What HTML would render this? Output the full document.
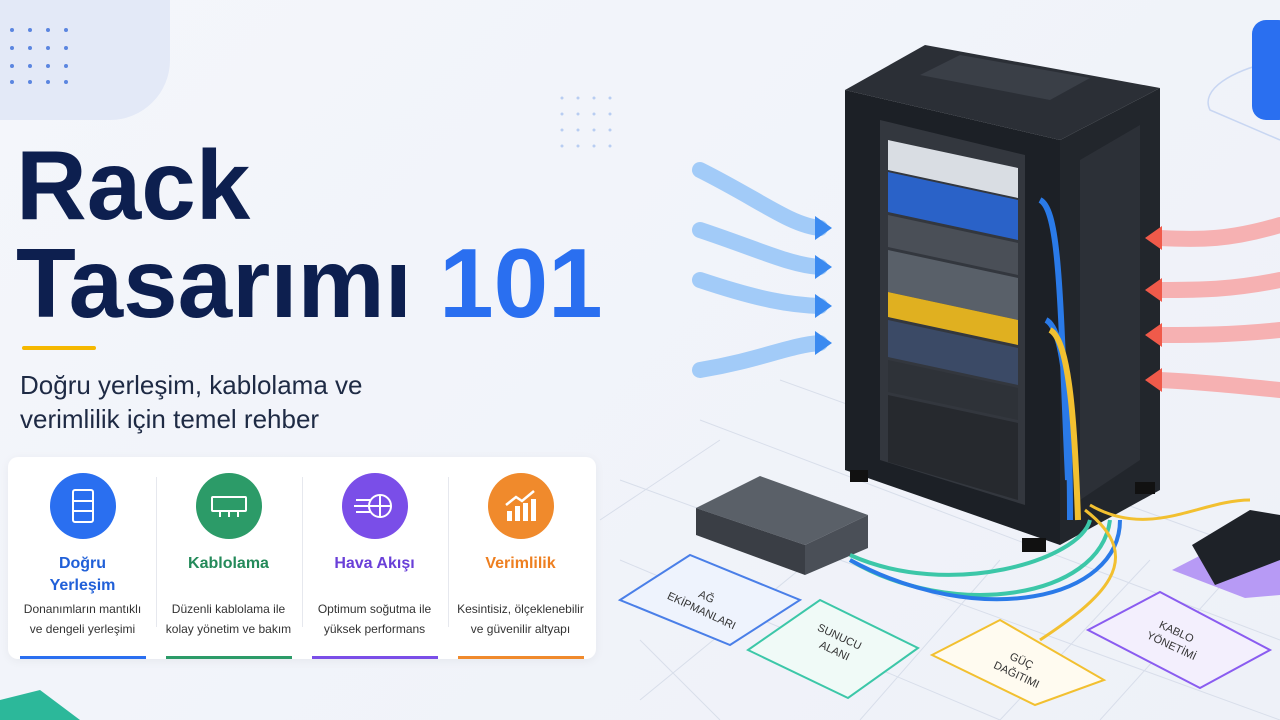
<!DOCTYPE html>
<html><head><meta charset="utf-8"><style>
body{margin:0;width:1280px;height:720px;overflow:hidden;background:linear-gradient(135deg,#f4f6fb,#eef1f8);font-family:"Liberation Sans",sans-serif;position:relative}
.t{position:absolute;left:16px;font-weight:bold;color:#0d1f4f;font-size:98px;line-height:1;letter-spacing:0px}
.card{position:absolute;left:8px;top:457px;width:588px;height:202px;background:#fff;border-radius:10px;box-shadow:0 2px 10px rgba(0,0,0,.05)}
.col{position:absolute;top:0;width:145px;text-align:center}
.ic{width:66px;height:66px;border-radius:50%;margin:16px auto 0;position:relative}
.h{font-weight:bold;font-size:16px;margin-top:14px;line-height:22px}
.d{font-size:12px;color:#333;line-height:20px;margin-top:8px}
.bar{position:absolute;top:199px;height:3px;width:126px;left:10px}
.sep{position:absolute;top:20px;width:1px;height:150px;background:#e6e8ee}
</style></head><body>
<div style="position:absolute;left:-20px;top:-20px;width:190px;height:140px;background:#e3e9f7;border-radius:0 0 60px 0"></div>
<div class="t" style="top:136px">Rack</div>
<div class="t" style="top:234px">Tasarımı <span style="color:#2a6ff0">101</span></div>
<div style="position:absolute;left:22px;top:346px;width:74px;height:4px;background:#f5b800;border-radius:2px"></div>
<div style="position:absolute;left:20px;top:368px;font-size:26px;color:#1e2a44;line-height:34px">Doğru yerleşim, kablolama ve<br>verimlilik için temel rehber</div>
<div class="card">
<div class="sep" style="left:148px"></div><div class="sep" style="left:294px"></div><div class="sep" style="left:440px"></div>
<div class="col" style="left:2px"><div class="ic" style="background:#2a6ff0"><svg width="66" height="66"><g fill="none" stroke="#fff" stroke-width="2"><rect x="23" y="17" width="20" height="32" rx="2"/><path d="M23 28H43M23 38H43"/></g></svg></div><div class="h" style="color:#2160d8">Doğru<br>Yerleşim</div><div class="d" style="margin-top:2px">Donanımların mantıklı<br>ve dengeli yerleşimi</div><div class="bar" style="background:#2a6ff0"></div></div>
<div class="col" style="left:148px"><div class="ic" style="background:#2c9b68"><svg width="66" height="66"><g fill="none" stroke="#fff" stroke-width="2"><rect x="16" y="24" width="34" height="14" rx="1"/><path d="M24 38v6M33 38v6M42 38v6"/></g></svg></div><div class="h" style="color:#248a5a">Kablolama</div><div class="d" style="margin-top:24px">Düzenli kablolama ile<br>kolay yönetim ve bakım</div><div class="bar" style="background:#2c9b68"></div></div>
<div class="col" style="left:294px"><div class="ic" style="background:#7a4ee8"><svg width="66" height="66"><g fill="none" stroke="#fff" stroke-width="2"><circle cx="38" cy="33" r="11"/><path d="M14 27h14M12 33h14M14 39h14M38 22v22M27 33h22"/></g></svg></div><div class="h" style="color:#6a3fd8">Hava Akışı</div><div class="d" style="margin-top:24px">Optimum soğutma ile<br>yüksek performans</div><div class="bar" style="background:#7a4ee8"></div></div>
<div class="col" style="left:440px"><div class="ic" style="background:#f08a2c"><svg width="66" height="66"><g fill="#fff"><rect x="19" y="38" width="5" height="10"/><rect x="27" y="33" width="5" height="15"/><rect x="35" y="30" width="5" height="18"/><rect x="43" y="26" width="5" height="22"/></g><path d="M18 32 L28 24 L34 28 L46 18" stroke="#fff" stroke-width="2.5" fill="none"/></svg></div><div class="h" style="color:#ee7f20">Verimlilik</div><div class="d" style="margin-top:24px">Kesintisiz, ölçeklenebilir<br>ve güvenilir altyapı</div><div class="bar" style="background:#f08a2c"></div></div>
</div>
<svg width="1280" height="720" style="position:absolute;left:0;top:0">
<g fill="#5b86e0"><circle cx="12" cy="30" r="2"/><circle cx="30" cy="30" r="2"/><circle cx="48" cy="30" r="2"/><circle cx="66" cy="30" r="2"/><circle cx="12" cy="48" r="2"/><circle cx="30" cy="48" r="2"/><circle cx="48" cy="48" r="2"/><circle cx="66" cy="48" r="2"/><circle cx="12" cy="66" r="2"/><circle cx="30" cy="66" r="2"/><circle cx="48" cy="66" r="2"/><circle cx="66" cy="66" r="2"/><circle cx="12" cy="82" r="2"/><circle cx="30" cy="82" r="2"/><circle cx="48" cy="82" r="2"/><circle cx="66" cy="82" r="2"/></g>
<g fill="#b8cdf2"><circle cx="562" cy="98" r="1.5"/><circle cx="578" cy="98" r="1.5"/><circle cx="594" cy="98" r="1.5"/><circle cx="610" cy="98" r="1.5"/><circle cx="562" cy="114" r="1.5"/><circle cx="578" cy="114" r="1.5"/><circle cx="594" cy="114" r="1.5"/><circle cx="610" cy="114" r="1.5"/><circle cx="562" cy="130" r="1.5"/><circle cx="578" cy="130" r="1.5"/><circle cx="594" cy="130" r="1.5"/><circle cx="610" cy="130" r="1.5"/><circle cx="562" cy="146" r="1.5"/><circle cx="578" cy="146" r="1.5"/><circle cx="594" cy="146" r="1.5"/><circle cx="610" cy="146" r="1.5"/></g>
<path d="M0 700 L40 690 L80 720 L0 720Z" fill="#2cb89a"/>
<path d="M1280 60 C1230 70 1200 90 1210 110 L1280 140" stroke="#c8d6f2" fill="none" stroke-width="1.5"/>
<rect x="1252" y="20" width="40" height="100" rx="14" fill="#2a6ff0"/>
<g stroke="#d8deea" stroke-width="1" fill="none">
<path d="M620 480 L1280 720 M700 420 L1280 640 M780 380 L1280 560 M620 560 L1000 720 M640 640 L720 720 M720 440 L600 520 M860 520 L640 700 M1000 560 L860 720 M1150 560 L1000 720 M1280 520 L1100 720"/>
</g>
<g fill="none" stroke-width="2">
<path d="M620 600 L690 555 L800 600 L730 645Z" stroke="#4a7fe8" fill="#eef3fd"/>
<path d="M748 650 L820 600 L918 648 L848 698Z" stroke="#3cc7a8" fill="#f0faf7"/>
<path d="M932 655 L1000 620 L1104 680 L1035 705Z" stroke="#f2c030" fill="#fffbf0"/>
<path d="M1088 630 L1160 592 L1270 650 L1200 688Z" stroke="#8a5cf0" fill="#f3effd"/>
<path d="M1172 570 L1250 530 L1280 540 L1280 595 L1245 598Z" stroke="none" fill="#b79af5"/>
</g>
<g font-size="11" fill="#333" text-anchor="middle">
<text x="705" y="600" transform="rotate(25 705 600)">AĞ</text><text x="700" y="614" transform="rotate(25 700 614)">EKİPMANLARI</text>
<text x="838" y="640" transform="rotate(25 838 640)">SUNUCU</text><text x="833" y="654" transform="rotate(25 833 654)">ALANI</text>
<text x="1020" y="664" transform="rotate(25 1020 664)">GÜÇ</text><text x="1015" y="678" transform="rotate(25 1015 678)">DAĞITIMI</text>
<text x="1175" y="635" transform="rotate(25 1175 635)">KABLO</text><text x="1170" y="649" transform="rotate(25 1170 649)">YÖNETİMİ</text>
</g>
<polygon points="845,90 925,45 1160,88 1060,140" fill="#2b2f36"/>
<polygon points="920,75 960,55 1090,78 1050,100" fill="#3a3f47"/>
<polygon points="1060,140 1160,88 1160,490 1060,545" fill="#22262c"/>
<polygon points="1080,160 1140,125 1140,460 1080,500" fill="#2c3037"/>
<polygon points="845,90 1060,140 1060,545 845,470" fill="#1c2026"/>
<polygon points="880,120 1025,155 1025,505 880,460" fill="#33373e"/>
<g>
<polygon points="888,140 1018,168 1018,198 888,170" fill="#d9dde3"/>
<polygon points="888,172 1018,200 1018,240 888,212" fill="#2a62c8"/>
<polygon points="888,215 1018,243 1018,275 888,247" fill="#4a4f57"/>
<polygon points="888,250 1018,278 1018,320 888,292" fill="#596069"/>
<polygon points="888,292 1018,320 1018,345 888,317" fill="#e0b020"/>
<polygon points="888,320 1018,348 1018,385 888,357" fill="#3b4a66"/>
<polygon points="888,360 1018,388 1018,420 888,392" fill="#2e3238"/>
<polygon points="888,395 1018,423 1018,500 888,462" fill="#26292e"/>
</g>
<path d="M1040 200 C1060 210 1060 300 1068 480 M1046 320 C1066 330 1070 420 1070 520" stroke="#2a7ae8" stroke-width="6" fill="none"/>
<path d="M1050 330 C1070 340 1075 430 1078 520" stroke="#f2c030" stroke-width="6" fill="none"/>
<rect x="850" y="470" width="18" height="12" fill="#111"/><rect x="1022" y="538" width="24" height="14" fill="#111"/><rect x="1135" y="482" width="20" height="12" fill="#111"/>
<polygon points="696,508 760,476 868,515 805,545" fill="#5a6068"/>
<polygon points="696,508 805,545 805,575 696,535" fill="#3a3e45"/>
<polygon points="805,545 868,515 868,548 805,575" fill="#4a4f57"/>
<path d="M850 555 C950 600 1080 560 1090 520 M850 560 C950 620 1100 600 1110 520" stroke="#3cc7a8" stroke-width="4" fill="none"/>
<path d="M850 560 C980 630 1120 600 1120 520" stroke="#2a7ae8" stroke-width="4" fill="none"/>
<path d="M1085 510 C1150 560 1100 600 1040 640 M1090 505 C1150 540 1200 500 1250 500" stroke="#f2c030" stroke-width="3" fill="none"/>
<polygon points="1192,545 1250,510 1280,515 1280,560 1215,585" fill="#1e2228"/>
<g fill="none" stroke-width="16" stroke-linecap="round">
<path d="M700 170 C760 200 790 225 820 228" stroke="#8fc0f8" opacity=".8"/>
<path d="M700 230 C760 250 790 265 820 267" stroke="#8fc0f8" opacity=".8"/>
<path d="M700 280 C760 300 790 305 820 306" stroke="#8fc0f8" opacity=".8"/>
<path d="M700 370 C760 360 790 345 820 343" stroke="#8fc0f8" opacity=".8"/>
<path d="M1280 225 C1230 240 1200 240 1160 238" stroke="#f8a0a0" opacity=".8"/>
<path d="M1280 280 C1230 290 1200 290 1160 290" stroke="#f8a0a0" opacity=".8"/>
<path d="M1280 330 C1230 335 1200 335 1160 335" stroke="#f8a0a0" opacity=".8"/>
<path d="M1280 390 C1230 385 1200 382 1160 380" stroke="#f8a0a0" opacity=".8"/>
</g>
<g fill="#3b8af0"><path d="M815 216 L832 228 L815 240Z"/><path d="M815 255 L832 267 L815 279Z"/><path d="M815 294 L832 306 L815 318Z"/><path d="M815 331 L832 343 L815 355Z"/></g>
<g fill="#f05a4a"><path d="M1162 226 L1145 238 L1162 250Z"/><path d="M1162 278 L1145 290 L1162 302Z"/><path d="M1162 323 L1145 335 L1162 347Z"/><path d="M1162 368 L1145 380 L1162 392Z"/></g>
</svg>
</body></html>
